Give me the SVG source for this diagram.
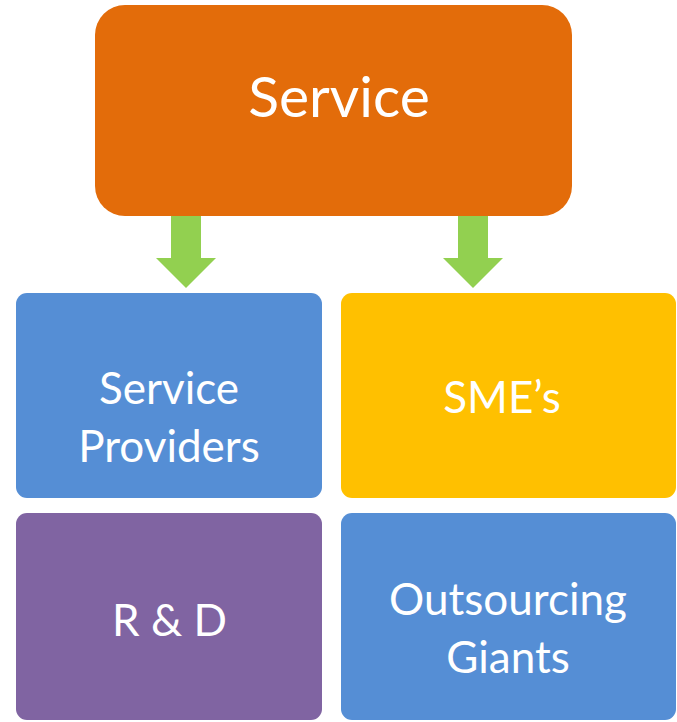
<svg xmlns="http://www.w3.org/2000/svg" width="677" height="722" viewBox="0 0 677 722">
<style>
text{font-family:Lato,"Open Sans","Liberation Sans",sans-serif;fill:#fff;text-anchor:middle}
.t{font-size:44px}
.big{font-size:57px}
.arrow{fill:#92D050}
</style>
<rect width="677" height="722" fill="#fff"/>
<g id="connectors">
<polygon class="arrow" points="171,216 201,216 201,258 216,258 186,288 156,258 171,258"/>
<polygon class="arrow" points="458,216 488,216 488,258 503,258 473,288 443,258 458,258"/>
</g>
<g id="service">
<rect x="95" y="5" width="477" height="211" rx="30" fill="#E36C0A"/>
<text class="big" x="339" y="117">Service</text>
</g>
<g id="service-providers">
<rect x="16" y="293" width="306" height="205" rx="11" fill="#558ED5"/>
<text class="t" x="169" y="404">Service</text>
<text class="t" x="169" y="462">Providers</text>
</g>
<g id="smes">
<rect x="341" y="293" width="335" height="205" rx="11" fill="#FFC000"/>
<text class="t" x="502" y="413">SME’s</text>
</g>
<g id="rnd">
<rect x="16" y="513" width="306" height="207" rx="11" fill="#8064A2"/>
<text class="t" x="169.5" y="636">R &amp; D</text>
</g>
<g id="outsourcing">
<rect x="341" y="513" width="335" height="207" rx="11" fill="#558ED5"/>
<text class="t" x="508" y="615">Outsourcing</text>
<text class="t" x="508" y="673">Giants</text>
</g>
</svg>
